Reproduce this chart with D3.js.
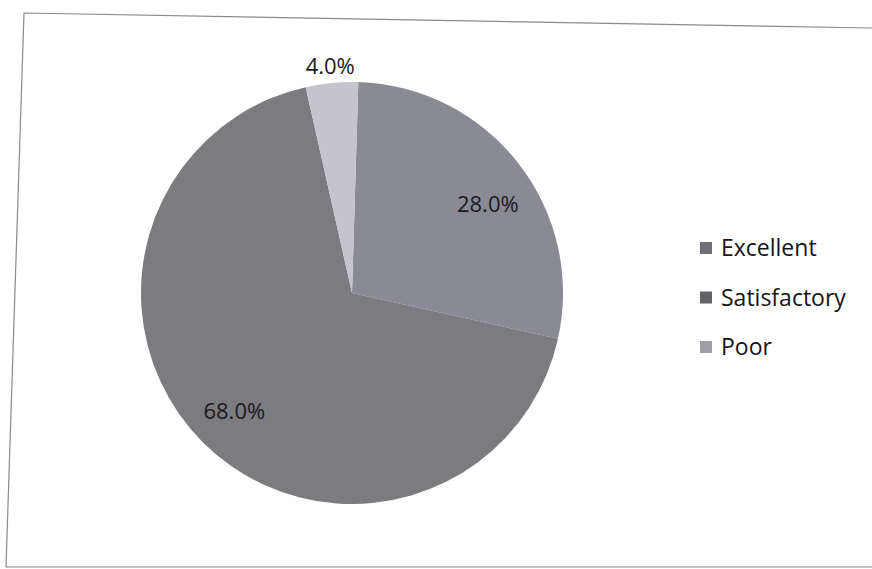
<!DOCTYPE html>
<html>
<head>
<meta charset="utf-8">
<script src="https://cdn.jsdelivr.net/npm/d3@7"></script>
<style>
  body { margin: 0; background: #fff; }
  text { font-family: "Open Sans", "Liberation Sans", sans-serif; }
</style>
</head>
<body>
<svg id="svg"></svg>
<script>
// data
const categories = ['Excellent', 'Satisfactory', 'Poor'];
const values = [28, 68, 4];
const labels = ['28.0%', '68.0%', '4.0%'];
const colors = ['#8a8a95', '#7b7b80', '#c5c4cc'];

let width = 872;
let height = 569;
let svg = d3.select('#svg').attr('width', width).attr('height', height);

// scanned frame, slightly skewed (no right edge visible)
svg.append('path')
  .attr('d', d3.line()([[872, 28], [24, 13], [6, 567], [872, 567]]))
  .attr('fill', 'none')
  .attr('stroke', '#8a8a8a')
  .attr('stroke-width', 1.2);

let cx = 352, cy = 293, r = 211;
let offset = 0.03; // page is a bit rotated

let pie = d3.pie().sort(null).value(d => d)
  .startAngle(offset).endAngle(offset + 2 * Math.PI);
let arcs = pie(values);
let arc = d3.arc().innerRadius(0).outerRadius(r);
let color = d3.scaleOrdinal().domain(categories).range(colors);

let g = svg.append('g').attr('transform', `translate(${cx},${cy})`);
g.selectAll('path')
  .data(arcs)
  .enter()
  .append('path')
  .attr('d', arc)
  .attr('fill', (d, i) => color(categories[i]));

// data labels
let labelRadius = [0.77, 0.79, 1.08];
g.selectAll('text.lbl')
  .data(arcs)
  .enter()
  .append('text')
  .attr('class', 'lbl')
  .attr('transform', (d, i) => {
    let a = (d.startAngle + d.endAngle) / 2 + (i == 0 ? 0.08 : 0);
    let rr = r * labelRadius[i];
    return `translate(${Math.sin(a) * rr},${-Math.cos(a) * rr})`;
  })
  .attr('text-anchor', 'middle')
  .attr('dy', '0.35em')
  .attr('font-size', 22)
  .attr('fill', '#1a1a1a')
  .text((d, i) => labels[i]);

// legend
let legend = svg.append('g').attr('transform', 'translate(700,248)');
let item = legend.selectAll('g')
  .data(categories)
  .enter()
  .append('g')
  .attr('transform', (d, i) => `translate(0,${i * 49.5})`);
item.append('rect')
  .attr('x', 0).attr('y', -6)
  .attr('width', 12).attr('height', 12)
  .attr('fill', d => d3.color(color(d)).darker(0.6));
item.append('text')
  .attr('x', 21)
  .attr('dy', '0.35em')
  .attr('font-size', 23)
  .attr('fill', '#151515')
  .text(d => d);
</script>
</body>
</html>
